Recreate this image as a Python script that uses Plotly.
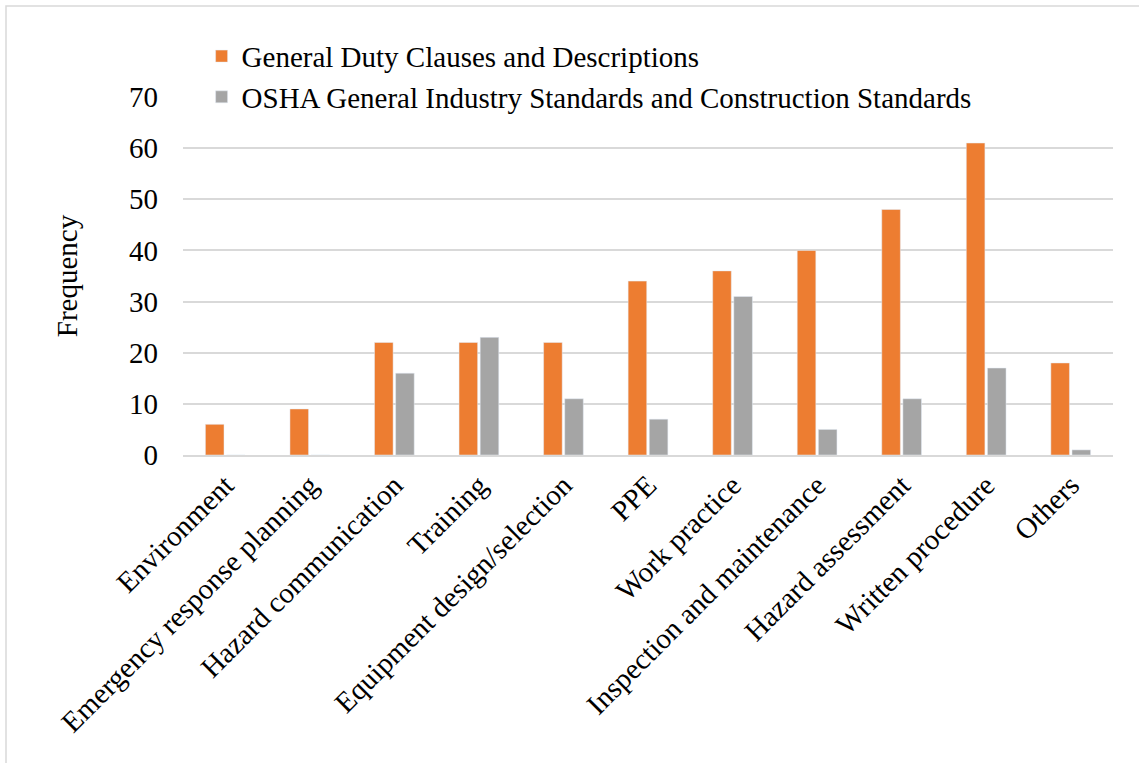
import plotly.graph_objects as go

categories = ["Environment", "Emergency response planning", "Hazard communication", "Training",
              "Equipment design/selection", "PPE", "Work practice", "Inspection and maintenance",
              "Hazard assessment", "Written procedure", "Others"]
general_duty = [6, 9, 22, 22, 22, 34, 36, 40, 48, 61, 18]
osha_standards = [0, 0, 16, 23, 11, 7, 31, 5, 11, 17, 1]
series_names = ["General Duty Clauses and Descriptions",
                "OSHA General Industry Standards and Construction Standards"]
y_ticks = [0, 10, 20, 30, 40, 50, 60, 70]

FONT = "Liberation Serif, Times New Roman, serif"
FS = 29

fig = go.Figure()
fig.add_trace(go.Bar(x=categories, y=general_duty, name=series_names[0], marker_color="#ED7D31"))
fig.add_trace(go.Bar(x=categories, y=osha_standards, name=series_names[1], marker_color="#A5A5A5"))

fig.update_layout(
    width=1139, height=763,
    margin=dict(l=183, r=26, t=97, b=308, autoexpand=False),
    paper_bgcolor="white", plot_bgcolor="white",
    font=dict(family=FONT, size=FS, color="black"),
    barmode="group", bargap=0.5, bargroupgap=0.12,
    showlegend=True,
    legend=dict(x=0.02, y=1.185, xanchor="left", yanchor="top",
                bgcolor="rgba(0,0,0,0)", font=dict(size=FS, family=FONT),
                itemwidth=30, tracegroupgap=0),
    shapes=[dict(type="rect", xref="paper", yref="paper",
                 x0=-177/930, x1=1130/930, y0=-310/358, y1=(455-6)/358,
                 line=dict(color="#d9d9d9", width=1.5), layer="below")],
)
fig.update_yaxes(range=[0, 70], tickvals=y_ticks, showgrid=True, gridcolor="#d9d9d9", gridwidth=1.5,
                 zeroline=False, showline=False, ticklabelstandoff=24, automargin=False,
                 tickfont=dict(size=FS, family=FONT),
                 title=dict(text="Frequency", font=dict(size=FS, family=FONT), standoff=42))
fig.update_xaxes(tickangle=-45, showline=True, linecolor="#d9d9d9", linewidth=1.5, automargin=False,
                 tickfont=dict(size=FS, family=FONT), ticks="")

fig.write_html("out.html")
